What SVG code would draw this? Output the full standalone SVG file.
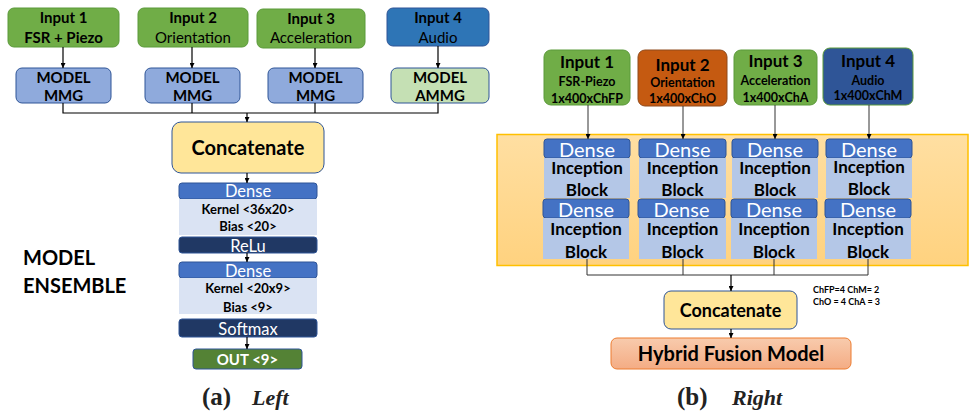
<svg xmlns="http://www.w3.org/2000/svg" width="969" height="417" viewBox="0 0 969 417">
  <defs>
    <marker id="arr" viewBox="0 0 6 6" refX="6" refY="3" markerWidth="5" markerHeight="5" orient="auto" markerUnits="userSpaceOnUse">
      <path d="M0,0 L6,3 L0,6 z" fill="#000"/>
    </marker>
    <linearGradient id="band" x1="0" y1="0" x2="0" y2="1">
      <stop offset="0" stop-color="#FFDFA2"/>
      <stop offset="1" stop-color="#FFD27F"/>
    </linearGradient>
    <linearGradient id="hyb" x1="0" y1="0" x2="0" y2="1">
      <stop offset="0" stop-color="#F8CBAD"/>
      <stop offset="1" stop-color="#F4AC84"/>
    </linearGradient>
    <style>
      text { font-family: Lato, "Liberation Sans", sans-serif; text-anchor: middle; fill: #000; }
      .b { font-weight: bold; }
      .w { fill: #fff; }
      .green { fill: #70AD47; stroke: #5B9A3A; stroke-width: 1; }
      .mmg { fill: #8FAADC; stroke: #2F5597; stroke-width: 1; }
      .ammg { fill: #C5E0B4; stroke: #2F5597; stroke-width: 1; }
      .conc { fill: #FFE699; stroke: #2F5597; stroke-width: 1; }
      .dense { fill: #4472C4; stroke: #2F5597; stroke-width: 1; }
      .dark { fill: #203864; stroke: #2F5597; stroke-width: 1; }
      .light { fill: #DAE3F3; }
      .incep { fill: #B4C7E7; }
      .wire { fill: none; stroke: #000; stroke-width: 1.2; }
      .wire-r { fill: none; stroke: #333; stroke-width: 1; }
      .cap { font-family: "Liberation Serif", "DejaVu Serif", serif; font-weight: bold; text-anchor: start; fill: #222; }
      .ib { font-weight: bold; font-size: 17px; }
      .rd { fill: #fff; font-size: 20px; }
    </style>
  </defs>

  <!-- ===== left: per-sensor models feeding a small dense ensemble ===== -->
  <g id="l-input1">
    <rect class="green" x="8" y="8" width="111" height="39" rx="6"/>
    <text class="b" x="63.5" y="22.5" font-size="15">Input 1</text>
    <text class="b" x="63.5" y="42.5" font-size="15">FSR + Piezo</text>
  </g>
  <g id="l-input2">
    <rect class="green" x="138" y="8" width="110" height="39" rx="6"/>
    <text class="b" x="193" y="22.5" font-size="15">Input 2</text>
    <text x="193" y="42.5" font-size="15">Orientation</text>
  </g>
  <g id="l-input3">
    <rect class="green" x="257" y="9" width="108" height="39" rx="6"/>
    <text class="b" x="311" y="23.5" font-size="15">Input 3</text>
    <text x="311" y="43" font-size="15">Acceleration</text>
  </g>
  <g id="l-input4">
    <rect x="387" y="8" width="102" height="38" rx="6" fill="#2E75B6" stroke="#2F5597"/>
    <text class="b" x="438" y="22.5" font-size="15">Input 4</text>
    <text x="438" y="42.5" font-size="15">Audio</text>
  </g>

  <g id="l-model1">
    <rect class="mmg" x="16" y="68" width="95" height="35" rx="6"/>
    <text class="b" x="63.5" y="83" font-size="15">MODEL</text>
    <text class="b" x="63.5" y="100.5" font-size="15">MMG</text>
  </g>
  <g id="l-model2">
    <rect class="mmg" x="145" y="68" width="95" height="35" rx="6"/>
    <text class="b" x="192.5" y="83" font-size="15">MODEL</text>
    <text class="b" x="192.5" y="100.5" font-size="15">MMG</text>
  </g>
  <g id="l-model3">
    <rect class="mmg" x="268" y="68" width="95" height="35" rx="6"/>
    <text class="b" x="315.5" y="83" font-size="15">MODEL</text>
    <text class="b" x="315.5" y="100.5" font-size="15">MMG</text>
  </g>
  <g id="l-model4">
    <rect class="ammg" x="391" y="68" width="98" height="35" rx="6"/>
    <text class="b" x="440" y="83" font-size="15">MODEL</text>
    <text class="b" x="440" y="100.5" font-size="15">AMMG</text>
  </g>

  <g id="l-concat">
    <rect class="conc" x="172" y="122" width="152" height="51" rx="9"/>
    <text class="b" x="248" y="154.5" font-size="20">Concatenate</text>
  </g>

  <g id="l-dense1">
    <rect class="dense" x="179" y="183" width="138" height="16" rx="3"/>
    <text class="w" x="248" y="197" font-size="16.5">Dense</text>
    <rect class="light" x="179" y="199" width="138" height="36"/>
    <text class="b" x="248" y="213.5" font-size="13">Kernel &lt;36x20&gt;</text>
    <text class="b" x="248" y="231" font-size="13">Bias &lt;20&gt;</text>
  </g>
  <g id="l-relu">
    <rect class="dark" x="179" y="237" width="138" height="16" rx="3"/>
    <text class="w" x="248" y="251.5" font-size="16.5">ReLu</text>
  </g>
  <g id="l-dense2">
    <rect class="dense" x="179" y="262" width="138" height="16" rx="3"/>
    <text class="w" x="248" y="276.5" font-size="16.5">Dense</text>
    <rect class="light" x="179" y="278" width="138" height="36"/>
    <text class="b" x="248" y="292.5" font-size="13">Kernel &lt;20x9&gt;</text>
    <text class="b" x="248" y="311.5" font-size="13">Bias &lt;9&gt;</text>
  </g>
  <g id="l-softmax">
    <rect class="dark" x="179" y="319" width="138" height="18" rx="3"/>
    <text class="w" x="248" y="334.5" font-size="16.5">Softmax</text>
  </g>
  <g id="l-out">
    <rect x="193" y="349" width="109" height="20" rx="3" fill="#548235" stroke="#2F5597"/>
    <text class="b w" x="247.5" y="365" font-size="15">OUT &lt;9&gt;</text>
  </g>

  <g id="l-label">
    <text class="b" x="23" y="265" font-size="20" style="text-anchor:start">MODEL</text>
    <text class="b" x="23" y="293" font-size="20" style="text-anchor:start">ENSEMBLE</text>
  </g>

  <!-- ===== right: hybrid fusion with inception branches ===== -->
  <g id="r-band">
    <rect x="497" y="134.5" width="471" height="131" fill="url(#band)" stroke="#FFC000" stroke-width="1.5"/>
  </g>

  <g id="r-input1">
    <rect class="green" x="544" y="50" width="86" height="55" rx="7"/>
    <text class="b" x="587" y="68" font-size="17">Input 1</text>
    <text class="b" x="587" y="86" font-size="12.5">FSR-Piezo</text>
    <text class="b" x="587" y="102.5" font-size="12.5">1x400xChFP</text>
  </g>
  <g id="r-input2">
    <rect x="638" y="50" width="89" height="56" rx="7" fill="#C55A11" stroke="#8F4A1C"/>
    <text class="b" x="682.5" y="70.5" font-size="17">Input 2</text>
    <text class="b" x="682.5" y="86.5" font-size="12.5">Orientation</text>
    <text class="b" x="682.5" y="103" font-size="12.5">1x400xChO</text>
  </g>
  <g id="r-input3">
    <rect class="green" x="734" y="50" width="83" height="55" rx="7"/>
    <text class="b" x="775.5" y="67" font-size="17">Input 3</text>
    <text class="b" x="775.5" y="85" font-size="12.5">Acceleration</text>
    <text class="b" x="775.5" y="101.5" font-size="12.5">1x400xChA</text>
  </g>
  <g id="r-input4">
    <rect x="823" y="48" width="90" height="57" rx="7" fill="#2F5597" stroke="#5B9A3A"/>
    <text class="b" x="868" y="66.5" font-size="17">Input 4</text>
    <text class="b" x="868" y="85" font-size="12.5">Audio</text>
    <text class="b" x="868" y="100" font-size="12.5">1x400xChM</text>
  </g>

  <g id="r-branch1">
    <rect class="dense" x="544" y="139" width="86" height="19" rx="3"/>
    <text class="rd" x="587" y="156.5">Dense</text>
    <rect class="incep" x="544" y="158" width="86" height="40"/>
    <text class="ib" x="587" y="173.5">Inception</text>
    <text class="ib" x="587" y="195.5">Block</text>
    <rect class="dense" x="543" y="199" width="86" height="19" rx="3"/>
    <text class="rd" x="586" y="216.5">Dense</text>
    <rect class="incep" x="543" y="218" width="86" height="41"/>
    <text class="ib" x="586" y="235">Inception</text>
    <text class="ib" x="586" y="257.5">Block</text>
  </g>
  <g id="r-branch2">
    <rect class="dense" x="639" y="139" width="87" height="19" rx="3"/>
    <text class="rd" x="682.5" y="156.5">Dense</text>
    <rect class="incep" x="639" y="158" width="87" height="40"/>
    <text class="ib" x="682.5" y="173.5">Inception</text>
    <text class="ib" x="682.5" y="195.5">Block</text>
    <rect class="dense" x="638" y="199" width="87" height="19" rx="3"/>
    <text class="rd" x="681.5" y="216.5">Dense</text>
    <rect class="incep" x="639" y="218" width="87" height="41"/>
    <text class="ib" x="682.5" y="235">Inception</text>
    <text class="ib" x="682.5" y="257.5">Block</text>
  </g>
  <g id="r-branch3">
    <rect class="dense" x="732" y="139" width="86" height="19" rx="3"/>
    <text class="rd" x="775" y="156.5">Dense</text>
    <rect class="incep" x="732" y="158" width="86" height="40"/>
    <text class="ib" x="775" y="173.5">Inception</text>
    <text class="ib" x="775" y="195.5">Block</text>
    <rect class="dense" x="731" y="199" width="86" height="19" rx="3"/>
    <text class="rd" x="774" y="216.5">Dense</text>
    <rect class="incep" x="731" y="218" width="86" height="41"/>
    <text class="ib" x="774" y="235">Inception</text>
    <text class="ib" x="774" y="257.5">Block</text>
  </g>
  <g id="r-branch4">
    <rect class="dense" x="826" y="139" width="86" height="19" rx="3"/>
    <text class="rd" x="869" y="156.5">Dense</text>
    <rect class="incep" x="826" y="158" width="86" height="40"/>
    <text class="ib" x="869" y="172.5">Inception</text>
    <text class="ib" x="869" y="195">Block</text>
    <rect class="dense" x="825" y="199" width="86" height="19" rx="3"/>
    <text class="rd" x="868" y="216.5">Dense</text>
    <rect class="incep" x="825" y="218" width="86" height="41"/>
    <text class="ib" x="868" y="235">Inception</text>
    <text class="ib" x="868" y="257.5">Block</text>
  </g>

  <g id="r-concat">
    <rect class="conc" x="664" y="291" width="133" height="38" rx="7"/>
    <text class="b" x="730.5" y="316.5" font-size="18">Concatenate</text>
  </g>
  <g id="r-note">
    <text class="b" x="813" y="293" font-size="9" style="text-anchor:start">ChFP=4 ChM= 2</text>
    <text class="b" x="813" y="305" font-size="9" style="text-anchor:start">ChO = 4 ChA = 3</text>
  </g>
  <g id="r-hybrid">
    <rect x="611" y="338" width="240" height="31" rx="6" fill="url(#hyb)" stroke="#ED7D31"/>
    <text class="b" x="731" y="360.5" font-size="20">Hybrid Fusion Model</text>
  </g>

  <!-- ===== captions ===== -->
  <g id="captions">
    <text class="cap" x="202" y="405" font-size="25">(a)</text>
    <text class="cap" x="252" y="405" font-size="22" font-style="italic">Left</text>
    <text class="cap" x="677" y="405" font-size="25">(b)</text>
    <text class="cap" x="732" y="405" font-size="22" font-style="italic">Right</text>
  </g>

  <!-- ===== connectors ===== -->
  <g id="connectors">
    <!-- left -->
    <path class="wire" d="M63,47 V68" marker-end="url(#arr)"/>
    <path class="wire" d="M192,47 V68" marker-end="url(#arr)"/>
    <path class="wire" d="M315,48 V68" marker-end="url(#arr)"/>
    <path class="wire" d="M438,46 V68" marker-end="url(#arr)"/>
    <path class="wire" d="M63,103 V113 H438 V103 M192,103 V113 M315,103 V113"/>
    <path class="wire" d="M247,113 V122" marker-end="url(#arr)"/>
    <path class="wire" d="M247,173 V183" marker-end="url(#arr)"/>
    <path class="wire" d="M247,253 V262" marker-end="url(#arr)"/>
    <path class="wire" d="M247,337 V349" marker-end="url(#arr)"/>
    <!-- right -->
    <path class="wire-r" d="M588,105 V139" marker-end="url(#arr)"/>
    <path class="wire-r" d="M683,106 V139" marker-end="url(#arr)"/>
    <path class="wire-r" d="M775,105 V139" marker-end="url(#arr)"/>
    <path class="wire-r" d="M869,105 V139" marker-end="url(#arr)"/>
    <path class="wire-r" d="M587,259 V275 H868 V259 M683,259 V275 M774,259 V275"/>
    <path class="wire" d="M731,275 V291" marker-end="url(#arr)"/>
    <path class="wire" d="M731,329 V338" marker-end="url(#arr)"/>
  </g>
</svg>
